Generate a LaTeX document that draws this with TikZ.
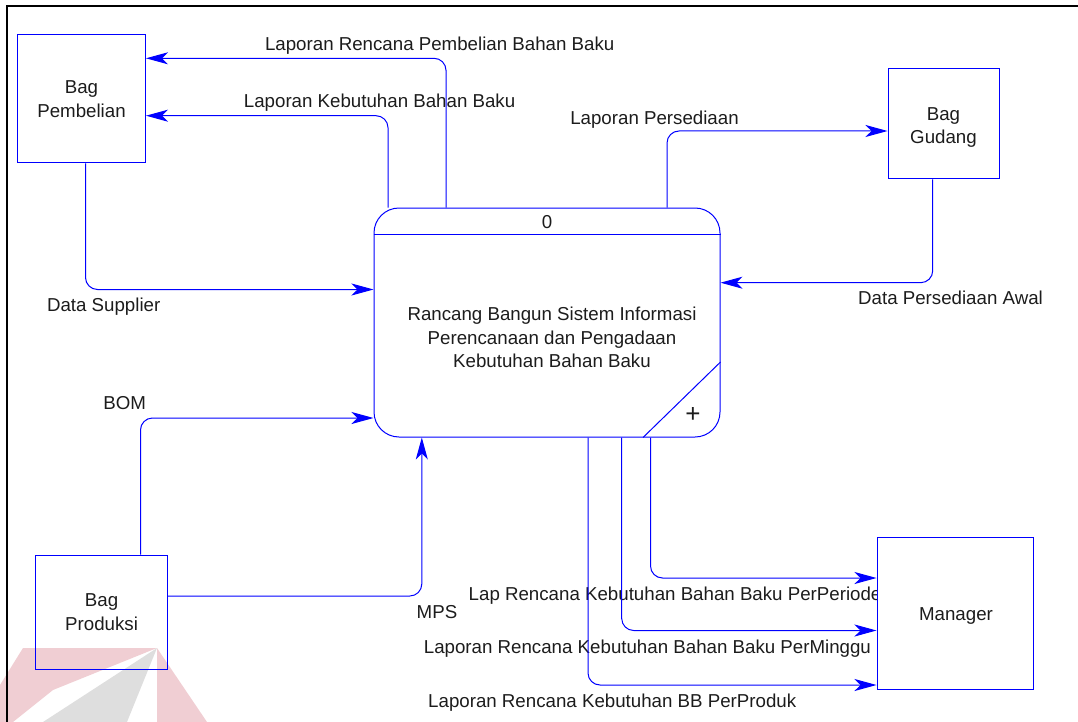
\documentclass[tikz,border=0pt]{standalone}
\usepackage{fontspec}
\setmainfont{Liberation Sans}
\usetikzlibrary{arrows.meta,backgrounds}
\definecolor{dfdblue}{RGB}{0,0,255}
\definecolor{txt}{RGB}{28,28,28}
\definecolor{wmpink}{RGB}{240,206,211}
\definecolor{wmgrey}{RGB}{222,222,222}
\begin{document}
\begin{tikzpicture}[x=1pt,y=-1pt,
  ent/.style={draw=dfdblue, line width=1pt, inner sep=0pt, align=center, text=txt,
    font=\fontsize{18.7}{23.5}\selectfont},
  enttext/.style={inner sep=0pt, align=center, text=txt,
    font=\fontsize{18.7}{23.5}\selectfont},
  flow/.style={draw=dfdblue, line width=1pt, rounded corners=12pt,
    -{Stealth[length=22pt,width=12pt,inset=6pt]}},
  lbl/.style={inner sep=0pt, text=txt, font=\fontsize{18.7}{23.5}\selectfont,
    text height=13.4pt, text depth=0pt},
  procline/.style={draw=dfdblue, line width=1pt},
]
\useasboundingbox (0,0) rectangle (1078,722);

% background: watermark and labels that the Manager box covers
\begin{scope}[on background layer]
  \fill[wmpink] (157,648) -- (23,648) -- (0,685) -- (0,722) -- (13,722) -- (53,690) -- cycle;
  \fill[wmgrey] (157,648) -- (43,722) -- (127,722) -- cycle;
  \fill[wmpink] (157,648) -- (157,722) -- (207,722) -- cycle;
  \node[lbl, anchor=west] (l8) at (468.5,594) {Lap Rencana Kebutuhan Bahan Baku PerPeriode};
  \node[lbl, anchor=west] (l9) at (423.7,647) {Laporan Rencana Kebutuhan Bahan Baku PerMinggu};
  \node[lbl, anchor=west] (l10) at (428,701) {Laporan Rencana Kebutuhan BB PerProduk};
\end{scope}

% frame
\draw[black, line width=2pt] (7,722) -- (7,6) -- (1078,6);

% process
\node[draw=dfdblue, line width=1pt, rounded corners=25pt, minimum width=346pt,
      minimum height=229pt, inner sep=0pt] (proc) at (547,322.5) {};
\draw[procline] (proc.west |- 0,234.5) -- (proc.east |- 0,234.5);
\draw[procline] (proc.east |- 0,362) -- (643,0 |- proc.south);
\node[lbl] (pnum) at (547,222) {0};
\node[inner sep=0pt, text=txt, font=\fontsize{26}{26}\selectfont] (plus) at (693,415) {+};
\node[enttext] (ptext) at (552,337.4) {Rancang Bangun Sistem Informasi\\Perencanaan dan Pengadaan\\Kebutuhan Bahan Baku};

% external entities
\node[ent, minimum width=128pt, minimum height=128pt] (pemb) at (81.5,99) {Bag\\Pembelian};
\node[ent, minimum width=111pt, minimum height=110pt] (gud) at (943.5,124) {};
\node[enttext] (gudtext) at (943.5,127.5) {Bag\\Gudang};
\node[ent, minimum width=132pt, minimum height=114pt] (prod) at (101.6,612) {Bag\\Produksi};
\node[ent, fill=white, minimum width=156pt, minimum height=152pt] (man) at (955,613) {};
\node[lbl] (mantext) at (956,613.5) {Manager};

% labels
\node[lbl] (l1) at (439.7,44) {Laporan Rencana Pembelian Bahan Baku};
\node[lbl] (l2) at (379.6,100.5) {Laporan Kebutuhan Bahan Baku};
\node[lbl] (l3) at (103.7,305) {Data Supplier};
\node[lbl] (l4) at (654.5,117.5) {Laporan Persediaan};
\node[lbl] (l5) at (950.5,298) {Data Persediaan Awal};
\node[lbl] (l6) at (124.7,402.5) {BOM};
\node[lbl] (l7) at (437,612) {MPS};

% flows
\draw[flow] (446,0 |- proc.north) |- (pemb.east |- 0,58.3);
\draw[flow] (388,0 |- proc.north) |- (pemb.east |- 0,115.7);
\draw[flow] (85.5,0 |- pemb.south) |- (proc.west |- 0,289.5);
\draw[flow] (667,0 |- proc.north) |- (gud.west |- 0,131);
\draw[flow] (932.7,0 |- gud.south) |- (proc.east |- 0,282.7);
\draw[flow] (140.5,0 |- prod.north) |- (proc.west |- 0,418);
\draw[flow] (prod.east |- 0,596) -| (421.8,0 |- proc.south);
\draw[flow] (650.5,0 |- proc.south) |- (man.west |- 0,578);
\draw[flow] (621.7,0 |- proc.south) |- (man.west |- 0,630.5);
\draw[flow] (588,0 |- proc.south) |- (man.west |- 0,685);
\end{tikzpicture}
\end{document}
